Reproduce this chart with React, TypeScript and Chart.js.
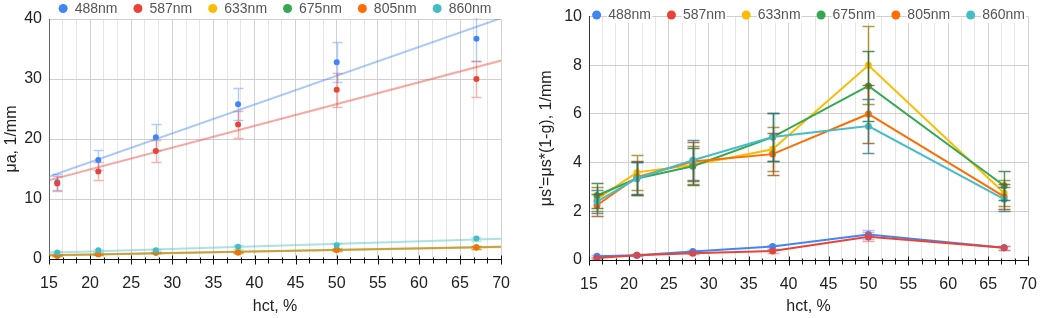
import React, { useEffect, useRef } from "react";
import { Chart, registerables } from "chart.js";

Chart.register(...registerables);

// ---------- data ----------
const hct = [16, 21, 28, 38, 50, 67];
const seriesNames = ["488nm", "587nm", "633nm", "675nm", "805nm", "860nm"];
const seriesColors = ["#4285F4", "#EA4335", "#FBBC04", "#34A853", "#FF6D01", "#46BDC6"];

// left chart: absorption coefficient μa, 1/mm
const muA488 = [12.8, 16.5, 20.3, 25.8, 32.8, 36.7];
const muA587 = [12.6, 14.6, 18.0, 22.4, 28.2, 30.0];
const muA633 = [0.6, 0.85, 1.1, 1.15, 1.5, 1.9];
const muA675 = [0.55, 0.8, 1.05, 1.1, 1.55, 1.95];
const muA805 = [0.55, 0.8, 1.1, 1.1, 1.55, 1.93];
const muA860 = [1.1, 1.45, 1.45, 2.05, 2.3, 3.4];

const errA488 = [1.3, 1.6, 2.2, 2.7, 3.3, 3.7];
const errA587 = [1.3, 1.5, 1.9, 2.3, 2.8, 3.0];
const errA633 = [0.1, 0.1, 0.12, 0.15, 0.15, 0.2];
const errA675 = [0.1, 0.1, 0.12, 0.15, 0.15, 0.2];
const errA805 = [0.1, 0.1, 0.12, 0.15, 0.15, 0.2];
const errA860 = [0.2, 0.25, 0.25, 0.35, 0.4, 0.35];

// right chart: reduced scattering μs' = μs*(1-g), 1/mm
const muS488 = [0.15, 0.2, 0.35, 0.55, 1.05, 0.5];
const muS587 = [0.08, 0.2, 0.28, 0.37, 0.95, 0.5];
const muS633 = [2.5, 3.6, 3.9, 4.55, 8.0, 2.75];
const muS675 = [2.65, 3.35, 3.85, 5.05, 7.15, 3.05];
const muS805 = [2.25, 3.4, 4.05, 4.35, 6.0, 2.6];
const muS860 = [2.4, 3.35, 4.1, 5.05, 5.5, 2.5];

const errS488 = [0.05, 0.04, 0.06, 0.08, 0.2, 0.08];
const errS587 = [0.03, 0.04, 0.05, 0.07, 0.18, 0.08];
const errS633 = [0.5, 0.72, 0.78, 0.9, 1.6, 0.55];
const errS675 = [0.53, 0.67, 0.77, 1.0, 1.43, 0.6];
const errS805 = [0.45, 0.68, 0.8, 0.87, 1.2, 0.52];
const errS860 = [0.48, 0.67, 0.82, 1.0, 1.1, 0.5];

const xMajorTicks = [15, 20, 25, 30, 35, 40, 45, 50, 55, 60, 65, 70];
const yTicksLeft = [0, 10, 20, 30, 40];
const yTicksRight = [0, 2, 4, 6, 8, 10];

const leftYTitle = "μa, 1/mm";
const rightYTitle = "μs'=μs*(1-g), 1/mm";
const xTitle = "hct, %";

// ---------- helpers ----------
const FONT = '"Liberation Sans", Arial, Helvetica, sans-serif';
Chart.defaults.font.family = FONT;

const minorPerMajor = 3;
const xGridValues: number[] = [];
for (let i = 0; i < xMajorTicks.length; i++) {
  xGridValues.push(xMajorTicks[i]);
  if (i < xMajorTicks.length - 1) {
    const step = (xMajorTicks[i + 1] - xMajorTicks[i]) / minorPerMajor;
    for (let k = 1; k < minorPerMajor; k++) xGridValues.push(xMajorTicks[i] + k * step);
  }
}
const isMajor = (v: number) => xMajorTicks.some((m) => Math.abs(m - v) < 1e-6);

function hexA(hex: string, a: number) {
  const n = parseInt(hex.slice(1), 16);
  return `rgba(${(n >> 16) & 255},${(n >> 8) & 255},${n & 255},${a})`;
}
function darken(hex: string, f: number, a = 1) {
  const n = parseInt(hex.slice(1), 16);
  const r = Math.round(((n >> 16) & 255) * f);
  const g = Math.round(((n >> 8) & 255) * f);
  const b = Math.round((n & 255) * f);
  return `rgba(${r},${g},${b},${a})`;
}

function linReg(xs: number[], ys: number[]) {
  const n = xs.length;
  const mx = xs.reduce((a, b) => a + b, 0) / n;
  const my = ys.reduce((a, b) => a + b, 0) / n;
  let sxy = 0, sxx = 0;
  for (let i = 0; i < n; i++) {
    sxy += (xs[i] - mx) * (ys[i] - my);
    sxx += (xs[i] - mx) * (xs[i] - mx);
  }
  const slope = sxy / sxx;
  return { slope, intercept: my - slope * mx };
}

type Bars = { values: number[]; err: number[]; color: string; width: number; cap: number };

function errorBarPlugin(bars: Bars[], phase: "before" | "after") {
  const draw = (chart: any) => {
    const { ctx, chartArea, scales } = chart;
    const x = scales.x, y = scales.y;
    ctx.save();
    ctx.beginPath();
    ctx.rect(chartArea.left, chartArea.top - 1, chartArea.right - chartArea.left, chartArea.bottom - chartArea.top + 2);
    ctx.clip();
    bars.forEach((b) => {
      ctx.strokeStyle = b.color;
      ctx.lineWidth = b.width;
      b.values.forEach((v, i) => {
        const px = Math.round(x.getPixelForValue(hct[i])) + 0.5;
        const top = Math.round(y.getPixelForValue(v + b.err[i])) + 0.5;
        const bot = Math.round(y.getPixelForValue(v - b.err[i])) + 0.5;
        ctx.beginPath();
        ctx.moveTo(px, top);
        ctx.lineTo(px, bot);
        ctx.moveTo(px - b.cap, top);
        ctx.lineTo(px + b.cap, top);
        ctx.moveTo(px - b.cap, bot);
        ctx.lineTo(px + b.cap, bot);
        ctx.stroke();
      });
    });
    ctx.restore();
  };
  return {
    id: "errbars_" + phase,
    beforeDatasetsDraw(chart: any) {
      if (phase === "before") draw(chart);
    },
    afterDatasetsDraw(chart: any) {
      if (phase === "after") draw(chart);
    },
  };
}

const xTickPlugin = {
  id: "xminorticks",
  afterDraw(chart: any) {
    const { ctx, chartArea, scales } = chart;
    const x = scales.x;
    const yAxis = Math.round(chartArea.bottom) + 0.5;
    ctx.save();
    ctx.strokeStyle = "#111";
    ctx.lineWidth = 1;
    ctx.beginPath();
    xGridValues.forEach((v) => {
      const px = Math.round(x.getPixelForValue(v)) + 0.5;
      if (isMajor(v)) {
        ctx.moveTo(px, yAxis - 4);
        ctx.lineTo(px, yAxis + 5);
      } else {
        ctx.moveTo(px, yAxis - 2);
        ctx.lineTo(px, yAxis + 4);
      }
    });
    ctx.stroke();
    ctx.restore();
  },
};

function legendPlugin(cy: number, whiteBehindText: boolean) {
  return {
    id: "customLegend",
    afterDraw(chart: any) {
      const { ctx, chartArea } = chart;
      ctx.save();
      ctx.font = `14px ${FONT}`;
      ctx.textBaseline = "middle";
      const r = 4.5, gap = 7, itemGap = 16;
      const widths = seriesNames.map((n) => 2 * r + gap + ctx.measureText(n).width);
      const total = widths.reduce((a, b) => a + b, 0) + itemGap * (seriesNames.length - 1);
      let x = (chartArea.left + chartArea.right) / 2 - total / 2;
      seriesNames.forEach((name, i) => {
        const tw = ctx.measureText(name).width;
        ctx.fillStyle = seriesColors[i];
        ctx.beginPath();
        ctx.arc(x + r, cy, r, 0, Math.PI * 2);
        ctx.fill();
        const tx = x + 2 * r + gap;
        if (whiteBehindText) {
          ctx.fillStyle = "#fff";
          ctx.fillRect(tx - 1, cy - 8, tw + 2, 16);
        }
        ctx.fillStyle = "#555";
        ctx.fillText(name, tx, cy + 0.5);
        x += widths[i] + itemGap;
      });
      ctx.restore();
    },
  };
}

function xScale(height: number) {
  return {
    type: "linear",
    min: 15,
    max: 70,
    afterBuildTicks: (scale: any) => {
      scale.ticks = xGridValues.map((v) => ({ value: v }));
    },
    afterFit: (scale: any) => {
      scale.height = height;
    },
    ticks: {
      autoSkip: false,
      maxRotation: 0,
      padding: 15,
      color: "#222",
      font: { size: 16 },
      callback: (v: any) => (isMajor(Number(v)) ? String(Math.round(Number(v))) : ""),
    },
    grid: {
      drawTicks: false,
      lineWidth: 1,
      color: (c: any) => (c.tick && isMajor(c.tick.value) ? "#d2d2d2" : "#e6e6e6"),
    },
    border: { color: "#111", width: 1 },
    title: {
      display: true,
      text: xTitle,
      color: "#222",
      font: { size: 16 },
      padding: { top: 0, bottom: 2 },
    },
  };
}

function yScale(ticks: number[], width: number, title: string, titlePadTop: number, borderColor: string) {
  return {
    type: "linear",
    min: ticks[0],
    max: ticks[ticks.length - 1],
    afterBuildTicks: (scale: any) => {
      scale.ticks = ticks.map((v) => ({ value: v }));
    },
    afterFit: (scale: any) => {
      scale.width = width;
    },
    ticks: { padding: 7, color: "#222", font: { size: 16 } },
    grid: { drawTicks: false, color: "#cfcfcf", lineWidth: 1 },
    border: { color: borderColor, width: 1 },
    title: {
      display: true,
      text: title,
      color: "#222",
      font: { size: 16 },
      padding: { top: titlePadTop, bottom: 0 },
    },
  };
}

function LeftChart() {
  const ref = useRef<HTMLCanvasElement | null>(null);
  useEffect(() => {
    if (!ref.current) return;
    const muA = [muA488, muA587, muA633, muA675, muA805, muA860];
    const errA = [errA488, errA587, errA633, errA675, errA805, errA860];
    const datasets: any[] = [];
    muA.forEach((vals, i) => {
      const { slope, intercept } = linReg(hct, vals);
      datasets.push({
        type: "line",
        label: seriesNames[i] + " trend",
        data: [
          { x: 15, y: intercept + slope * 15 },
          { x: 70, y: intercept + slope * 70 },
        ],
        borderColor: hexA(seriesColors[i], 0.45),
        borderWidth: 2,
        pointRadius: 0,
        order: 30 - i,
      });
    });
    muA.forEach((vals, i) => {
      datasets.push({
        type: "scatter",
        label: seriesNames[i],
        data: vals.map((v, k) => ({ x: hct[k], y: v })),
        backgroundColor: seriesColors[i],
        borderColor: seriesColors[i],
        borderWidth: 0,
        pointRadius: 3,
        showLine: false,
        order: 10 - i,
      });
    });
    const bars: Bars[] = muA.map((vals, i) => ({
      values: vals,
      err: errA[i],
      color: hexA(seriesColors[i], 0.4),
      width: 1.5,
      cap: 5,
    }));
    const chart = new Chart(ref.current, {
      type: "scatter",
      data: { datasets },
      options: {
        responsive: false,
        animation: false,
        layout: { padding: { left: 0, right: 20, top: 19, bottom: 0 } },
        plugins: { legend: { display: false }, tooltip: { enabled: false } },
        scales: {
          x: xScale(59) as any,
          y: yScale(yTicksLeft, 49, leftYTitle, 2, "#666") as any,
        },
      },
      plugins: [errorBarPlugin(bars, "before"), xTickPlugin, legendPlugin(8.5, false)],
    });
    return () => chart.destroy();
  }, []);
  return <canvas ref={ref} width={525} height={318} style={{ position: "absolute", left: 0, top: 0, width: 525, height: 318 }} />;
}

function RightChart() {
  const ref = useRef<HTMLCanvasElement | null>(null);
  useEffect(() => {
    if (!ref.current) return;
    const muS = [muS488, muS587, muS633, muS675, muS805, muS860];
    const errS = [errS488, errS587, errS633, errS675, errS805, errS860];
    const datasets: any[] = muS.map((vals, i) => ({
      type: "line",
      label: seriesNames[i],
      data: vals.map((v, k) => ({ x: hct[k], y: v })),
      borderColor: seriesColors[i],
      backgroundColor: seriesColors[i],
      borderWidth: 2,
      pointRadius: 3.5,
      pointBorderWidth: 0,
      tension: 0,
      order: 10 - i,
    }));
    const bars: Bars[] = muS.map((vals, i) => ({
      values: vals,
      err: errS[i],
      color: i < 2 ? hexA(seriesColors[i], 0.45) : darken(seriesColors[i], 0.62, 0.75),
      width: 1.5,
      cap: 6,
    }));
    const chart = new Chart(ref.current, {
      type: "line",
      data: { datasets },
      options: {
        responsive: false,
        animation: false,
        layout: { padding: { left: 0, right: 11, top: 15, bottom: 0 } },
        plugins: { legend: { display: false }, tooltip: { enabled: false } },
        scales: {
          x: xScale(58) as any,
          y: yScale(yTicksRight, 64, rightYTitle, 12, "#333") as any,
        },
      },
      plugins: [errorBarPlugin(bars, "after"), xTickPlugin, legendPlugin(15, true)],
    });
    return () => chart.destroy();
  }, []);
  return <canvas ref={ref} width={527} height={318} style={{ position: "absolute", left: 525, top: 0, width: 527, height: 318 }} />;
}

export default function App() {
  return (
    <div style={{ position: "fixed", left: 0, top: 0, width: 1052, height: 318, background: "#fff" }}>
      <LeftChart />
      <RightChart />
    </div>
  );
}
